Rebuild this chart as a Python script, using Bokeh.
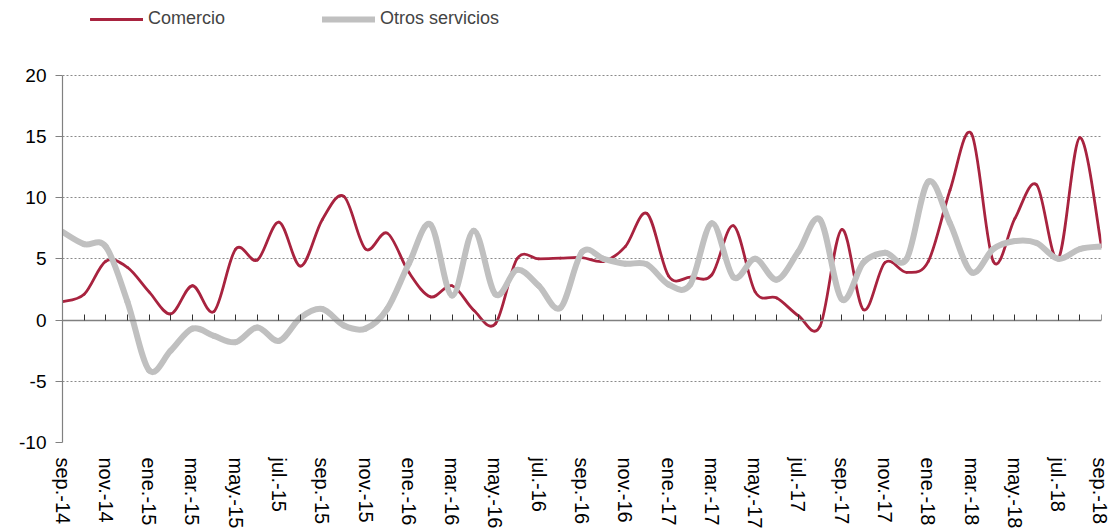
import numpy as np
from bokeh.plotting import figure
from bokeh.models import (FixedTicker, LinearAxis, Legend, LegendItem, Range1d,
                          ColumnDataSource)
from bokeh.embed import file_html
from bokeh.resources import INLINE

months = ["sep.-14", "oct.-14", "nov.-14", "dic.-14", "ene.-15", "feb.-15", "mar.-15",
          "abr.-15", "may.-15", "jun.-15", "jul.-15", "ago.-15", "sep.-15", "oct.-15",
          "nov.-15", "dic.-15", "ene.-16", "feb.-16", "mar.-16", "abr.-16", "may.-16",
          "jun.-16", "jul.-16", "ago.-16", "sep.-16", "oct.-16", "nov.-16", "dic.-16",
          "ene.-17", "feb.-17", "mar.-17", "abr.-17", "may.-17", "jun.-17", "jul.-17",
          "ago.-17", "sep.-17", "oct.-17", "nov.-17", "dic.-17", "ene.-18", "feb.-18",
          "mar.-18", "abr.-18", "may.-18", "jun.-18", "jul.-18", "ago.-18", "sep.-18"]

comercio = [1.5, 2.1, 4.8, 4.3, 2.3, 0.5, 2.8, 0.7, 5.8, 4.9, 8.0, 4.4, 8.2, 10.1, 5.8,
            7.1, 3.9, 1.9, 2.8, 0.8, -0.3, 5.0, 5.0, 5.05, 5.1, 4.8, 6.0, 8.7, 3.6, 3.5,
            3.7, 7.7, 2.3, 1.8, 0.35, -0.5, 7.4, 0.85, 4.7, 3.9, 4.8, 10.6, 15.2, 4.8,
            8.3, 11.05, 5.0, 14.9, 6.0]

otros = [7.2, 6.2, 6.0, 1.5, -4.1, -2.5, -0.7, -1.3, -1.8, -0.6, -1.7, 0.2, 0.9, -0.45,
         -0.7, 0.9, 4.6, 7.8, 2.0, 7.3, 2.1, 4.1, 2.8, 1.0, 5.55, 5.0, 4.6, 4.55, 2.9,
         2.9, 7.9, 3.5, 5.0, 3.3, 5.6, 8.2, 1.7, 4.7, 5.5, 5.0, 11.3, 7.9, 3.9, 5.8,
         6.45, 6.3, 5.0, 5.8, 6.0]

series_names = ["Comercio", "Otros servicios"]
y_ticks = [-10, -5, 0, 5, 10, 15, 20]
y_tick_labels = ["-10", "-5", "0", "5", "10", "15", "20"]

RED = "#A8233F"
GREY = "#C0C0C0"


def smooth_segments(values):
    """Bezier control points (Catmull-Rom style, as spreadsheet smoothed lines)."""
    y = np.asarray(values, dtype=float)
    x = np.arange(len(y), dtype=float)
    n = len(y)
    xp = np.concatenate([[x[0]], x, [x[-1]]])
    yp = np.concatenate([[y[0]], y, [y[-1]]])
    x0, y0 = x[:-1], y[:-1]
    x1, y1 = x[1:], y[1:]
    cx0 = x0 + (xp[2:n + 1] - xp[0:n - 1]) / 6.0
    cy0 = y0 + (yp[2:n + 1] - yp[0:n - 1]) / 6.0
    cx1 = x1 - (xp[3:n + 2] - xp[1:n]) / 6.0
    cy1 = y1 - (yp[3:n + 2] - yp[1:n]) / 6.0
    return ColumnDataSource(dict(x0=x0, y0=y0, x1=x1, y1=y1,
                                 cx0=cx0, cy0=cy0, cx1=cx1, cy1=cy1))


W, H = 1110, 531
FRAME_LEFT, FRAME_RIGHT = 62, 1101
AXIS_TOP_PX, FRAME_BOTTOM = 75, 444
Y_MIN, Y_MAX = y_ticks[0], y_ticks[-1]
# extend the range above the top tick so the legend sits inside the frame
Y_TOP = Y_MAX + AXIS_TOP_PX * (Y_MAX - Y_MIN) / (FRAME_BOTTOM - AXIS_TOP_PX)

p = figure(width=W, height=H, output_backend="svg", toolbar_location=None,
           x_range=Range1d(0, len(months) - 1), y_range=Range1d(Y_MIN, Y_TOP),
           min_border_left=FRAME_LEFT, min_border_right=W - FRAME_RIGHT,
           min_border_top=0, min_border_bottom=H - FRAME_BOTTOM)
p.outline_line_color = None
p.background_fill_color = "white"
p.border_fill_color = "white"

# y axis
p.yaxis.ticker = FixedTicker(ticks=y_ticks)
p.yaxis.major_label_overrides = dict(zip(y_ticks, y_tick_labels))
p.yaxis.bounds = (Y_MIN, Y_MAX)
p.yaxis.axis_line_color = "#808080"
p.yaxis.axis_line_width = 1.2
p.yaxis.major_tick_line_color = "#808080"
p.yaxis.major_tick_out = 7
p.yaxis.major_tick_in = 0
p.yaxis.minor_tick_line_color = None
p.yaxis.major_label_text_font = "Liberation Sans"
p.yaxis.major_label_text_font_size = "19px"
p.yaxis.major_label_text_color = "black"
p.yaxis.major_label_standoff = 9

# x axis (labels only, at bottom)
label_ticks = list(range(0, len(months), 2))
p.xaxis.ticker = FixedTicker(ticks=label_ticks)
p.xaxis.major_label_overrides = {i: months[i] for i in label_ticks}
p.xaxis.major_label_orientation = "vertical"
p.xaxis.axis_line_color = None
p.xaxis.major_tick_line_color = None
p.xaxis.minor_tick_line_color = None
p.xaxis.major_label_text_font = "Liberation Sans"
p.xaxis.major_label_text_font_size = "20px"
p.xaxis.major_label_text_color = "black"
p.xaxis.major_label_standoff = 9

# zero axis with monthly ticks
zero_axis = LinearAxis(fixed_location=0, ticker=FixedTicker(ticks=list(range(len(months)))),
                       axis_line_color="#808080", axis_line_width=1.5,
                       major_tick_line_color="#333333", major_tick_in=6, major_tick_out=0,
                       minor_tick_line_color=None, major_label_text_font_size="0px",
                       major_label_standoff=0, major_label_text_alpha=0)
p.add_layout(zero_axis, "below")

# grid
p.xgrid.grid_line_color = None
p.ygrid.ticker = FixedTicker(ticks=[t for t in y_ticks if t != 0])
p.ygrid.grid_line_color = "#8a8a8a"
p.ygrid.grid_line_dash = "2 2"
p.ygrid.grid_line_width = 1

r_com = p.bezier(x0="x0", y0="y0", x1="x1", y1="y1", cx0="cx0", cy0="cy0",
                 cx1="cx1", cy1="cy1", source=smooth_segments(comercio),
                 line_color=RED, line_width=2.8, line_cap="round")
r_otr = p.bezier(x0="x0", y0="y0", x1="x1", y1="y1", cx0="cx0", cy0="cy0",
                 cx1="cx1", cy1="cy1", source=smooth_segments(otros),
                 line_color=GREY, line_width=6, line_cap="round")

legend = Legend(items=[LegendItem(label=series_names[0], renderers=[r_com]),
                       LegendItem(label=series_names[1], renderers=[r_otr])],
                orientation="horizontal", location=(90 - FRAME_LEFT, FRAME_BOTTOM - 31),
                glyph_width=53, glyph_height=20, label_standoff=5, spacing=97,
                padding=0, margin=0, border_line_color=None,
                background_fill_alpha=0, label_text_font="Liberation Sans",
                label_text_font_size="18px", label_height=20)
p.add_layout(legend, "center")

open("out.html", "w").write(file_html(p, INLINE))
